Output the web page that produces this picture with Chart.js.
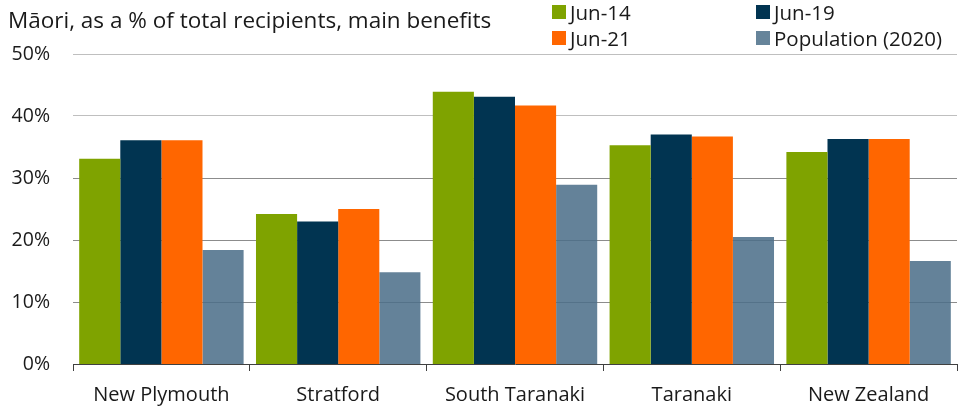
<!DOCTYPE html>
<html>
<head>
<meta charset="utf-8">
<script src="https://cdn.jsdelivr.net/npm/chart.js@4/dist/chart.umd.min.js"></script>
<style>
  html, body { margin: 0; padding: 0; background: #fff; }
  #wrap { position: relative; width: 959px; height: 411px; overflow: hidden; font-family: "Open Sans", "Noto Sans", sans-serif; color: #1a1a1a; }
  #title { position: absolute; left: 8px; top: 5px; font-size: 22.5px; line-height: 30px; white-space: nowrap; }
  #legend { position: absolute; left: 552px; top: 0px; width: 407px; height: 52px; }
  .li { position: absolute; font-size: 20.5px; line-height: 24px; white-space: nowrap; display: flex; align-items: center; }
  .sw { width: 14px; height: 14px; margin-right: 4px; display: inline-block; }
  canvas { position: absolute; left: 0; top: 0; }
</style>
</head>
<body>
<div id="wrap">
  <canvas id="c" width="959" height="411"></canvas>
  <div id="title">Māori, as a % of total recipients, main benefits</div>
  <div id="legend"></div>
</div>
<script>
const categories = ["New Plymouth", "Stratford", "South Taranaki", "Taranaki", "New Zealand"];
const seriesLabels = ["Jun-14", "Jun-19", "Jun-21", "Population (2020)"];
const jun14 = [33.1, 24.2, 43.9, 35.3, 34.2];
const jun19 = [36.1, 23.0, 43.1, 37.0, 36.3];
const jun21 = [36.1, 25.0, 41.7, 36.7, 36.3];
const population2020 = [18.4, 14.8, 28.9, 20.5, 16.6];
const yTicks = [0, 10, 20, 30, 40, 50];

const colors = ["#7fa300", "#013451", "#ff6600", "rgba(75,110,136,0.86)"];
const legendColors = ["#7fa300", "#013451", "#ff6600", "#66849a"];
const values = [jun14, jun19, jun21, population2020];

const datasets = values.map((v, i) => ({
  label: seriesLabels[i],
  data: v,
  backgroundColor: colors[i],
  borderWidth: 0,
  barPercentage: 1.0,
  categoryPercentage: 0.93
}));

const fontX = { family: "'Open Sans', 'Noto Sans', sans-serif", size: 20 };
const fontY = { family: "'Open Sans', 'Noto Sans', sans-serif", size: 19.5 };

const chart = new Chart(document.getElementById("c"), {
  type: "bar",
  data: { labels: categories, datasets },
  options: {
    responsive: false,
    animation: false,
    layout: { padding: { top: 54, right: 2, left: 0, bottom: 0 } },
    plugins: { legend: { display: false }, title: { display: false }, tooltip: { enabled: false } },
    scales: {
      x: {
        grid: { offset: true, drawOnChartArea: false, drawTicks: true, tickLength: 7, color: "#404040", lineWidth: 1 },
        border: { display: true, color: "#404040", width: 1 },
        ticks: { font: fontX, color: "#1a1a1a", padding: 12 },
        afterFit: (s) => { s.height = 47; }
      },
      y: {
        min: 0, max: 50,
        afterBuildTicks: (s) => { s.ticks = yTicks.map(v => ({ value: v })); },
        grid: {
          drawTicks: false,
          color: (ctx) => (ctx.tick && ctx.tick.value >= 40 ? "#bfbfbf" : "#8c8c8c"),
          lineWidth: (ctx) => (ctx.tick && ctx.tick.value === 0 ? 0 : 1)
        },
        border: { display: false },
        ticks: { font: fontY, color: "#1a1a1a", padding: 23, callback: (v) => v + "%" },
        afterFit: (s) => { s.width = 73; }
      }
    }
  }
});

// HTML legend built from the datasets
const lg = document.getElementById("legend");
const pos = [[0, 0], [204, 0], [0, 26], [204, 26]];
chart.data.datasets.forEach((ds, i) => {
  const d = document.createElement("div");
  d.className = "li";
  d.style.left = pos[i][0] + "px";
  d.style.top = pos[i][1] + "px";
  const sw = document.createElement("span");
  sw.className = "sw";
  sw.style.background = legendColors[i];
  d.appendChild(sw);
  d.appendChild(document.createTextNode(ds.label));
  lg.appendChild(d);
});
</script>
</body>
</html>
